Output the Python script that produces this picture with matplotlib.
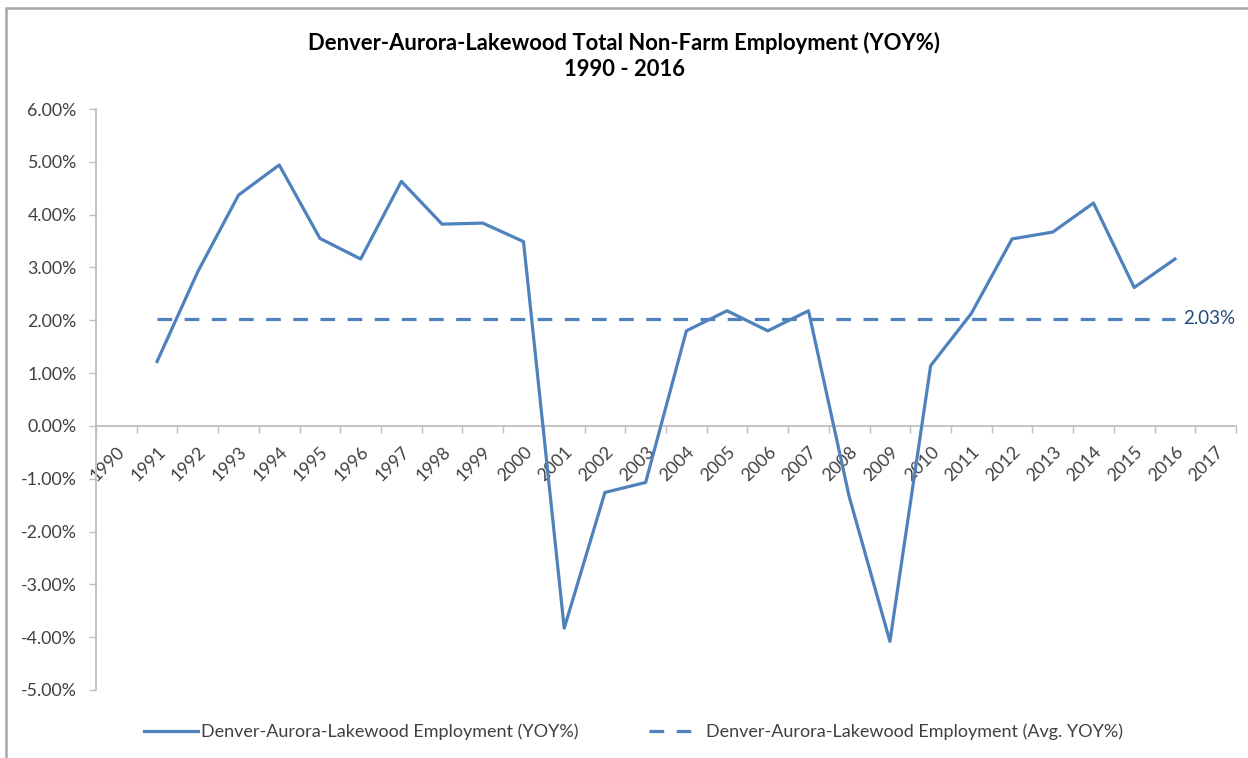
import matplotlib
matplotlib.use("Agg")
import matplotlib.pyplot as plt
from matplotlib.patches import Rectangle
import numpy as np

plt.rcParams['font.family'] = ['Lato', 'DejaVu Sans']

categories = [str(y) for y in range(1990, 2018)]
years = [str(y) for y in range(1991, 2017)]
yoy = [1.22, 2.92, 4.37, 4.94, 3.55, 3.16, 4.63, 3.82, 3.84, 3.49,
       -3.83, -1.26, -1.07, 1.80, 2.18, 1.80, 2.18, -1.34, -4.08, 1.14,
       2.13, 3.54, 3.67, 4.22, 2.62, 3.16]
avg_yoy = 2.03
avg_series = [avg_yoy] * len(years)

title = "Denver-Aurora-Lakewood Total Non-Farm Employment (YOY%)\n1990 - 2016"
label_yoy = "Denver-Aurora-Lakewood Employment (YOY%)"
label_avg = "Denver-Aurora-Lakewood Employment (Avg. YOY%)"

W, H = 1248, 758
fig = plt.figure(figsize=(W / 100, H / 100), dpi=100)
ax = fig.add_axes([96 / W, 1 - 690 / H, (1236 - 96) / W, (690 - 109) / H])

blue = '#4F81BD'
axis_gray = '#BFBFBF'
text_col = '#404040'

xpos = [categories.index(y) for y in years]
ax.plot(xpos, yoy, color=blue, lw=2.3, solid_joinstyle='round', label=label_yoy, zorder=3)
ax.plot(xpos, avg_series, color=blue, lw=2.3, dashes=(4.6, 3.9), dash_capstyle='butt',
        label=label_avg, zorder=3)

ax.annotate(f"{avg_yoy:.2f}%", xy=(xpos[-1], avg_series[-1]), xytext=(6, 0),
            textcoords='offset points', va='center', ha='left',
            color='#1F497D', fontsize=13.5)

ax.set_xlim(-0.5, len(categories) - 0.5)
ax.set_ylim(-5, 6)

# y axis
yticks = np.arange(-5, 7, 1)
ax.set_yticks(yticks)
ax.set_yticklabels([f"{v:.2f}%" for v in yticks], fontsize=12.8, color=text_col)
ax.tick_params(axis='y', direction='out', length=5, width=1, color=axis_gray, pad=9)

# x axis at zero
ax.spines['bottom'].set_position(('data', 0))
ax.set_xticks(np.arange(-0.5, len(categories), 1))
ax.set_xticklabels([])
ax.set_xticks(np.arange(len(categories)), minor=True)
ax.set_xticklabels(categories, minor=True, rotation=45, ha='right', va='top',
                   rotation_mode='anchor', fontsize=12.8, color=text_col)
ax.tick_params(axis='x', which='major', direction='out', length=5, width=1, color=axis_gray)
ax.tick_params(axis='x', which='minor', length=0, pad=13)

for s in ['top', 'right']:
    ax.spines[s].set_visible(False)
for s in ['left', 'bottom']:
    ax.spines[s].set_color(axis_gray)
    ax.spines[s].set_linewidth(1.3)

fig.text(0.5, 1 - 56 / H, title, ha='center', va='center', fontsize=15.8,
         fontweight='bold', color='black', linespacing=1.3)

fig.legend(loc='center', bbox_to_anchor=(0.5076, 1 - 732 / H), ncol=2, frameon=False,
           fontsize=13, handlelength=3.0, handletextpad=0.15, columnspacing=3.9,
           labelcolor=text_col)

# outer border
fig.patches.append(Rectangle((6 / W, -0.1), 1.2, (1 - 8 / H) + 0.1,
                             transform=fig.transFigure, fill=False,
                             edgecolor='#A6A6A6', lw=1.8, zorder=0))

fig.savefig("out.png", dpi=100, facecolor='white')
